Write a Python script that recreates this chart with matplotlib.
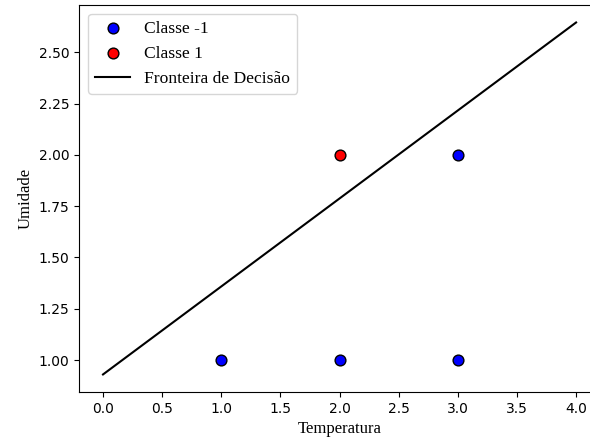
import matplotlib
matplotlib.use("Agg")
import matplotlib.pyplot as plt
import numpy as np

# data
x_neg = [1, 2, 3, 3]
y_neg = [1, 1, 1, 2]
x_pos = [2]
y_pos = [2]
line_x = [0.0, 4.0]
line_y = [0.93, 2.645]

fig = plt.figure(figsize=(5.9, 4.44), dpi=100)
# right edge of the axes runs past the picture, as in the reference
ax = fig.add_axes([0.1345, 0.117, 0.882, 0.872])

ax.scatter(x_neg, y_neg, c='blue', edgecolors='black', s=60, label='Classe -1', zorder=3)
ax.scatter(x_pos, y_pos, c='red', edgecolors='black', s=60, label='Classe 1', zorder=3)
ax.plot(line_x, line_y, color='black', label='Fronteira de Decisão')

serif = {'family': 'Liberation Serif', 'size': 12}
ax.set_xlabel('Temperatura', fontdict=serif)
ax.set_ylabel('Umidade', fontdict=serif)
ax.legend(loc='upper left', prop={'family': 'Liberation Serif', 'size': 12.6})

fig.savefig('out.png', dpi=100)
